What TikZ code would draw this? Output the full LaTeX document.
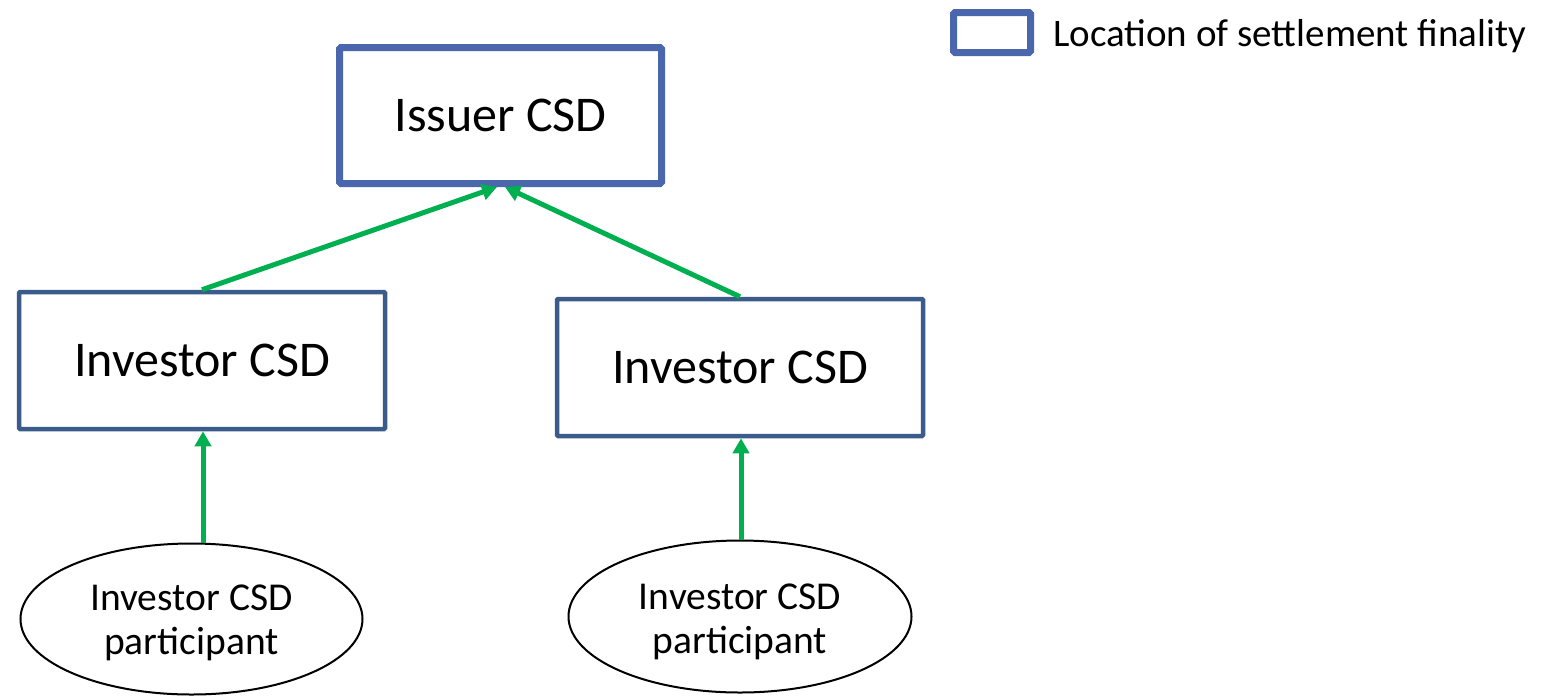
\documentclass[tikz,border=0pt]{standalone}
\usepackage{fontspec}
\setmainfont{Carlito}
\usetikzlibrary{arrows.meta,shapes.geometric}
\definecolor{finalblue}{HTML}{4A66AC}
\definecolor{csdblue}{HTML}{3B5B8A}
\definecolor{flowgreen}{HTML}{00B050}
\begin{document}
\begin{tikzpicture}[x=1pt,y=-1pt,
  finalbox/.style={draw=finalblue,line width=7pt,rounded corners=1.5pt,fill=white,inner sep=0pt},
  csdbox/.style={draw=csdblue,line width=4.5pt,rounded corners=1pt,fill=white,inner sep=0pt},
  partell/.style={draw=black,line width=2pt,ellipse,inner sep=0pt},
  parttext/.style={inner sep=0pt,align=center,font=\fontsize{39.5}{44}\selectfont},
  flow/.style={draw=flowgreen,line width=5pt,-{Triangle[length=15pt,width=16pt]}}]
\useasboundingbox (0,0) rectangle (1555,697);
% settlement-finality boxes
\node[finalbox,minimum width=322pt,minimum height=136pt,font=\fontsize{50}{56}\selectfont] (issuer) at (500.5,115.5) {Issuer CSD};
\node[csdbox,minimum width=366pt,minimum height=137pt,font=\fontsize{50}{56}\selectfont] (invL) at (202,360.5) {Investor CSD};
\node[csdbox,minimum width=366pt,minimum height=137pt,font=\fontsize{50}{56}\selectfont] (invR) at (740,367.5) {Investor CSD};
% participants
\node[partell,minimum width=342pt,minimum height=151pt] (partL) at (191.5,619) {};
\node[partell,minimum width=343pt,minimum height=152pt] (partR) at (740,616.5) {};
\node[parttext] (partLtext) at (191.5,623) {Investor CSD\\participant};
\node[parttext] (partRtext) at (740,622) {Investor CSD\\participant};
% flows
\coordinate (tipL) at (497,187);
\coordinate (tipR) at (505,187);
\draw[flow] (invL.north) -- (tipL);
\draw[flow] (invR.north) -- (tipR);
\draw[flow] (partL.north -| 203,0) -- (invL.south -| 203,0);
\draw[flow] (partR.north -| 741,0) -- (invR.south -| 741,0);
% legend
\node[finalbox,minimum width=77pt,minimum height=40pt] (legbox) at (992,32.5) {};
\node[anchor=base west,inner sep=0pt,font=\fontsize{39}{44}\selectfont] (legtext) at (1053,46) {Location of settlement finality};
\end{tikzpicture}
\end{document}
